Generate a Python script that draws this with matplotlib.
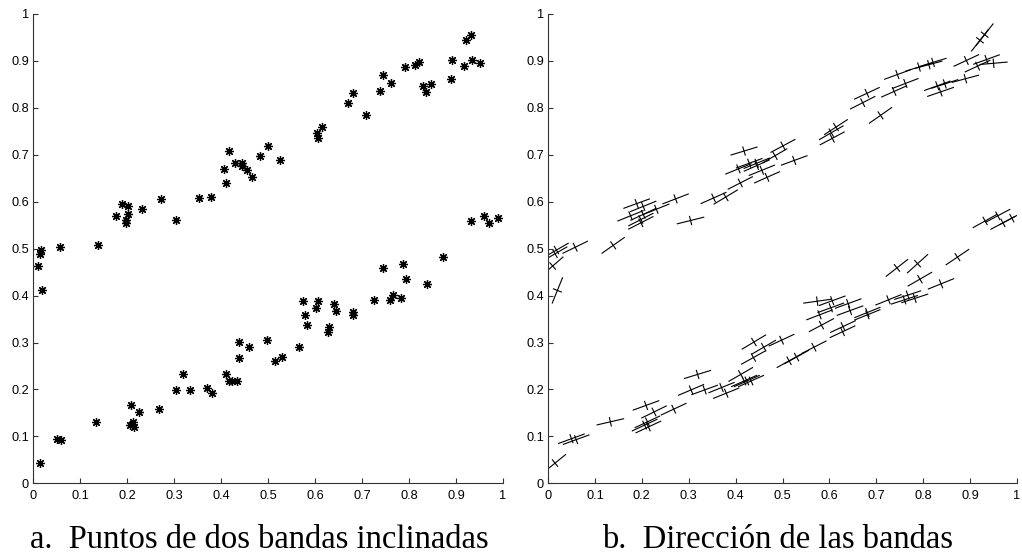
import numpy as np
import matplotlib
matplotlib.use("Agg")
import matplotlib.pyplot as plt
from matplotlib.ticker import FuncFormatter

# puntos de las dos bandas (x, y) y dirección local (grados)
x_pts = [0.010, 0.015, 0.018, 0.020, 0.058, 0.139, 0.176, 0.189, 0.203, 0.203,
         0.198, 0.198, 0.231, 0.272, 0.304, 0.353, 0.379, 0.406, 0.410, 0.418,
         0.429, 0.445, 0.445, 0.456, 0.467, 0.484, 0.501, 0.525, 0.604, 0.614,
         0.606, 0.671, 0.680, 0.709, 0.738, 0.745, 0.762, 0.791, 0.812, 0.821,
         0.830, 0.837, 0.846, 0.890, 0.892, 0.916, 0.921, 0.931, 0.935, 0.950,
         0.015, 0.050, 0.060, 0.133, 0.209, 0.226, 0.212, 0.206, 0.214, 0.268,
         0.305, 0.319, 0.334, 0.370, 0.380, 0.411, 0.418, 0.424, 0.433, 0.438,
         0.439, 0.460, 0.498, 0.514, 0.530, 0.567, 0.574, 0.579, 0.583, 0.603,
         0.606, 0.629, 0.628, 0.640, 0.644, 0.681, 0.681, 0.726, 0.744, 0.760,
         0.767, 0.782, 0.788, 0.793, 0.838, 0.873, 0.932, 0.959, 0.970, 0.989]
y_pts = [0.463, 0.489, 0.497, 0.411, 0.503, 0.507, 0.570, 0.596, 0.590, 0.573,
         0.562, 0.555, 0.584, 0.606, 0.560, 0.608, 0.610, 0.670, 0.640, 0.708,
         0.682, 0.682, 0.677, 0.667, 0.652, 0.698, 0.719, 0.688, 0.747, 0.759,
         0.735, 0.811, 0.831, 0.784, 0.835, 0.871, 0.852, 0.887, 0.892, 0.897,
         0.847, 0.834, 0.851, 0.862, 0.901, 0.889, 0.944, 0.956, 0.903, 0.895,
         0.043, 0.095, 0.093, 0.131, 0.166, 0.152, 0.131, 0.124, 0.120, 0.158,
         0.199, 0.232, 0.199, 0.204, 0.192, 0.232, 0.218, 0.218, 0.218, 0.268,
         0.301, 0.290, 0.305, 0.261, 0.269, 0.290, 0.388, 0.359, 0.337, 0.374,
         0.389, 0.334, 0.323, 0.383, 0.368, 0.364, 0.359, 0.391, 0.459, 0.391,
         0.401, 0.394, 0.468, 0.435, 0.425, 0.482, 0.559, 0.570, 0.555, 0.565]
ang_deg = [41, 30, 30, 68, 26, 35, 22, 20, 22, 25,
           27, 27, 22, 21, 14, 24, 31, 22, 27, 17,
           20, 22, 24, 22, 24, 30, 28, 20, 30, 33,
           28, 27, 25, 35, 24, 20, 21, 17, 15, 17,
           20, 19, 18, 15, 25, 25, 52, 52, 20, 5,
           39, 20, 20, 13, 20, 26, 25, 25, 25, 25,
           23, 17, 20, 22, 22, 30, 24, 24, 24, 29,
           31, 30, 25, 29, 29, 27, 8, 21, 28, 20,
           20, 25, 25, 20, 20, 22, 22, 22, 38, 18,
           18, 18, 42, 30, 22, 34, 29, 28, 28, 28]

ticks = [0, 0.1, 0.2, 0.3, 0.4, 0.5, 0.6, 0.7, 0.8, 0.9, 1]
captions = ["a.  Puntos de dos bandas inclinadas", "b.  Dirección de las bandas"]

x = np.array(x_pts)
y = np.array(y_pts)
a = np.radians(ang_deg)
L = 0.029   # media longitud del segmento
t = 0.009   # media longitud de la marca perpendicular

fig = plt.figure(figsize=(10.22, 5.56), dpi=100)
ax1 = fig.add_axes([33/1022, 72.7/556, 470/1022, 469.3/556])
ax2 = fig.add_axes([548/1022, 72.7/556, 469/1022, 469.3/556])

fmt = FuncFormatter(lambda v, p: "%g" % v)
for ax in (ax1, ax2):
    ax.set_xlim(0, 1)
    ax.set_ylim(0, 1)
    ax.set_xticks(ticks)
    ax.set_yticks(ticks)
    ax.xaxis.set_major_formatter(fmt)
    ax.yaxis.set_major_formatter(fmt)
    ax.spines["top"].set_visible(False)
    ax.spines["right"].set_visible(False)
    for s in ("left", "bottom"):
        ax.spines[s].set_color("#333333")
        ax.spines[s].set_linewidth(0.8)
    ax.tick_params(direction="in", length=3.5, width=0.8, color="#333333",
                   labelsize=9.2)
    ax.tick_params(axis="x", pad=5)
    ax.tick_params(axis="y", pad=3)
    for lab in ax.get_xticklabels() + ax.get_yticklabels():
        lab.set_fontfamily("Liberation Sans")

# a. puntos
ax1.plot(x, y, linestyle="none", marker=(8, 2, 0), markersize=6.5,
         markeredgewidth=0.9, color="black")

# b. direcciones
for xi, yi, ai in zip(x, y, a):
    c, s = np.cos(ai), np.sin(ai)
    ax2.plot([xi - L*c, xi + L*c], [yi - L*s, yi + L*s], color="black", lw=0.8)
    ax2.plot([xi + t*s, xi - t*s], [yi - t*c, yi + t*c], color="black", lw=0.8)

fig.text(259.5/1022, 8/556, captions[0], ha="center", va="baseline",
         fontfamily="Liberation Serif", fontsize=23.5)
fig.text(778/1022, 8/556, captions[1], ha="center", va="baseline",
         fontfamily="Liberation Serif", fontsize=23.5)

fig.savefig("out.png", dpi=100)
